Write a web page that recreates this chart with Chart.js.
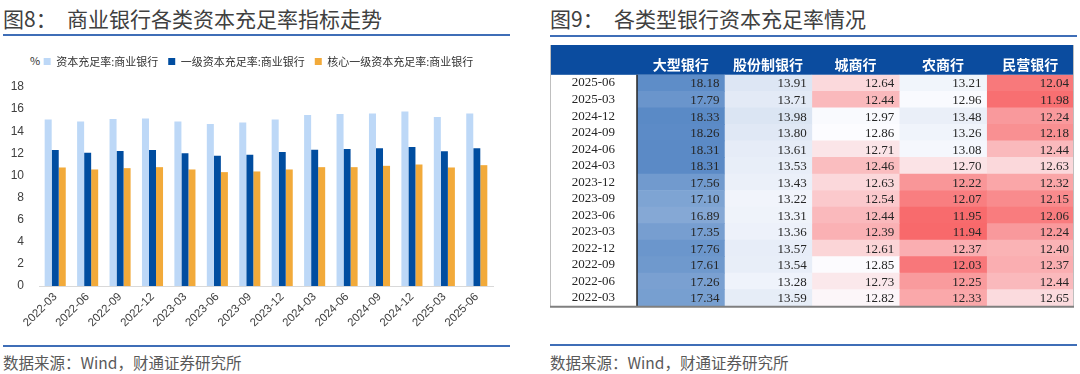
<!DOCTYPE html>
<html>
<head>
<meta charset="utf-8">
<script src="https://cdn.jsdelivr.net/npm/chart.js@4.4.1/dist/chart.umd.min.js"></script>
<style>
  html,body{margin:0;padding:0;background:#fff;}
  body{width:1080px;height:374px;position:relative;overflow:hidden;font-family:"Noto Sans CJK SC","Noto Sans",sans-serif;}
  .t{position:absolute;font-size:21px;color:#404040;line-height:24px;white-space:nowrap;}
  .ln{position:absolute;height:2px;background:#3F6EB7;}
  .src{position:absolute;font-size:15.5px;color:#595959;line-height:20px;white-space:nowrap;}
  canvas{position:absolute;}
</style>
</head>
<body>
<script>
// ---------- data: left chart ----------
const barCategories = ["2022-03","2022-06","2022-09","2022-12","2023-03","2023-06","2023-09","2023-12","2024-03","2024-06","2024-09","2024-12","2025-03","2025-06"];
const seriesNames = ["资本充足率:商业银行","一级资本充足率:商业银行","核心一级资本充足率:商业银行"];
const capitalRatio = [15.07,14.87,15.10,15.16,14.87,14.66,14.78,15.07,15.46,15.55,15.61,15.79,15.28,15.61];
const tier1Ratio   = [12.30,12.06,12.21,12.30,12.00,11.79,11.88,12.12,12.33,12.39,12.45,12.57,12.18,12.45];
const coreTier1Ratio = [10.72,10.54,10.66,10.75,10.54,10.30,10.36,10.54,10.75,10.75,10.87,10.99,10.72,10.93];
const yTicks = [0,2,4,6,8,10,12,14,16,18];

// ---------- data: right table ----------
const tableRows = ["2025-06","2025-03","2024-12","2024-09","2024-06","2024-03","2023-12","2023-09","2023-06","2023-03","2022-12","2022-09","2022-06","2022-03"];
const tableCols = ["大型银行","股份制银行","城商行","农商行","民营银行"];
const largeBanks  = [18.18,17.79,18.33,18.26,18.31,18.31,17.56,17.10,16.89,17.35,17.76,17.61,17.26,17.34];
const jointStock  = [13.91,13.71,13.98,13.80,13.61,13.53,13.43,13.22,13.31,13.36,13.57,13.54,13.28,13.59];
const cityBanks   = [12.64,12.44,12.97,12.86,12.71,12.46,12.63,12.54,12.44,12.39,12.61,12.85,12.73,12.82];
const ruralBanks  = [13.21,12.96,13.48,13.26,13.08,12.70,12.22,12.07,11.95,11.94,12.37,12.03,12.25,12.33];
const privateBanks= [12.04,11.98,12.24,12.18,12.44,12.63,12.32,12.15,12.06,12.24,12.40,12.37,12.44,12.65];
const tableValues = [largeBanks, jointStock, cityBanks, ruralBanks, privateBanks];
</script>

<div class="t" style="left:3px;top:6px;">图8：</div>
<div class="t" style="left:67px;top:6px;">商业银行各类资本充足率指标走势</div>
<div class="ln" style="left:3px;top:34px;width:507px;"></div>
<div style="position:absolute;left:30px;top:52px;font-size:11px;color:#333;">%</div>
<canvas id="bar" width="530" height="300" style="left:0;top:40px;width:530px;height:300px;"></canvas>
<div class="ln" style="left:3px;top:345px;width:507px;"></div>
<div class="src" style="left:3px;top:352px;">数据来源：Wind，财通证券研究所</div>

<div class="t" style="left:550px;top:6px;">图9：</div>
<div class="t" style="left:614px;top:6px;">各类型银行资本充足率情况</div>
<div class="ln" style="left:550px;top:35px;width:527px;"></div>
<canvas id="heat" width="524" height="291" style="left:550px;top:45px;width:524px;height:291px;"></canvas>
<div class="ln" style="left:550px;top:344px;width:527px;"></div>
<div class="src" style="left:550px;top:352px;">数据来源：Wind，财通证券研究所</div>

<script>
Chart.defaults.animation = false;
Chart.defaults.devicePixelRatio = 1;

// extra space under the legend
const legendGap = {
  id: 'legendGap',
  beforeInit(chart) {
    const origFit = chart.legend.fit;
    chart.legend.fit = function () { origFit.call(this); this.height += 10; };
  }
};

// ---------- left bar chart ----------
new Chart(document.getElementById('bar'), {
  type: 'bar',
  data: {
    labels: barCategories,
    datasets: [
      {label: seriesNames[0], data: capitalRatio, backgroundColor: '#BDD8F7'},
      {label: seriesNames[1], data: tier1Ratio, backgroundColor: '#004DA0'},
      {label: seriesNames[2], data: coreTier1Ratio, backgroundColor: '#F2AA3A'}
    ]
  },
  options: {
    responsive: false,
    layout: {padding: {top: 6, right: 13, left: 0, bottom: 0}},
    datasets: {bar: {categoryPercentage: 0.65, barPercentage: 1, borderWidth: 0}},
    plugins: {
      tooltip: {enabled: false},
      legend: {
        position: 'top',
        labels: {
          boxWidth: 7, boxHeight: 7, padding: 10,
          color: '#333',
          font: {family: '"Noto Sans CJK SC"', size: 11}
        }
      }
    },
    scales: {
      x: {
        grid: {display: false, drawTicks: false},
        border: {display: true, color: '#D9D9D9', width: 1},
        ticks: {
          minRotation: 45, maxRotation: 45, padding: 4,
          color: '#404040',
          font: {family: '"Liberation Sans", Arial', size: 11.5}
        },
        afterFit: s => { s.height = 54; }
      },
      y: {
        min: 0, max: 18,
        grid: {display: false, drawTicks: false},
        border: {display: false},
        afterBuildTicks: s => { s.ticks = yTicks.map(v => ({value: v})); },
        ticks: {
          padding: 15, color: '#404040',
          font: {family: '"Liberation Sans", Arial', size: 12}
        },
        afterFit: s => { s.width = 39; }
      },
      ySpacer: {
        position: 'right', min: 0, max: 18,
        grid: {display: false, drawTicks: false},
        border: {display: false},
        ticks: {display: false},
        afterFit: s => { s.width = 24; }
      }
    }
  },
  plugins: [legendGap]
});

// ---------- right heat table ----------
const allVals = tableValues.flat().slice().sort((a,b)=>a-b);
const vMin = allVals[0], vMax = allVals[allVals.length-1];
const vMid = (allVals[Math.floor((allVals.length-1)/2)] + allVals[Math.ceil((allVals.length-1)/2)]) / 2;
const cLow = [248,105,107], cMid = [252,252,255], cHigh = [90,138,198];
function heatColor(v) {
  let a, b, t;
  if (v <= vMid) { a = cMid; b = cLow; t = (vMid - v) / (vMid - vMin); }
  else { a = cMid; b = cHigh; t = (v - vMid) / (vMax - vMid); }
  t = Math.max(0, Math.min(1, t));
  const c = a.map((x,i)=>Math.round(x + (b[i]-x)*t));
  return `rgb(${c[0]},${c[1]},${c[2]})`;
}

const tablePlugin = {
  id: 'tablePlugin',
  beforeDraw(chart) {
    const {ctx, chartArea, width} = chart;
    ctx.save();
    ctx.fillStyle = '#0B4C9F';
    ctx.fillRect(0, 0, width, chartArea.top);
    ctx.restore();
  },
  afterDatasetsDraw(chart) {
    const {ctx, chartArea} = chart;
    ctx.save();
    ctx.font = '13px "Liberation Serif", "Times New Roman", serif';
    ctx.fillStyle = '#262626';
    ctx.textAlign = 'right';
    ctx.textBaseline = 'middle';
    chart.data.datasets.forEach((ds, i) => {
      const meta = chart.getDatasetMeta(i);
      meta.data.forEach((el, r) => {
        const p = el.getProps(['x','y'], true);
        ctx.fillText(ds.values[r].toFixed(2), p.x - 5, p.y + 1);
      });
    });
    ctx.strokeStyle = '#262626';
    ctx.lineWidth = 1.5;
    ctx.beginPath();
    ctx.moveTo(chartArea.left, chartArea.top);
    ctx.lineTo(chartArea.left, chartArea.bottom);
    ctx.stroke();
    ctx.restore();
  },
  afterDraw(chart) {
    const {ctx, chartArea, width} = chart;
    ctx.save();
    ctx.strokeStyle = '#BFBFBF';
    ctx.lineWidth = 1;
    ctx.beginPath();
    ctx.moveTo(0.5, 0); ctx.lineTo(0.5, chartArea.bottom);
    ctx.moveTo(width - 0.5, 0); ctx.lineTo(width - 0.5, chartArea.bottom);
    ctx.stroke();
    ctx.strokeStyle = '#7F7F7F';
    ctx.lineWidth = 2;
    ctx.beginPath();
    ctx.moveTo(0, chartArea.bottom + 0.5); ctx.lineTo(width, chartArea.bottom + 0.5);
    ctx.stroke();
    ctx.restore();
  }
};

new Chart(document.getElementById('heat'), {
  type: 'bar',
  data: {
    labels: tableRows,
    datasets: tableCols.map((name, j) => ({
      label: name,
      values: tableValues[j],
      data: tableValues[j].map(() => 1),
      backgroundColor: tableValues[j].map(heatColor),
      borderWidth: 0,
      categoryPercentage: 1,
      barPercentage: 1,
      stack: 'cells'
    }))
  },
  options: {
    responsive: false,
    indexAxis: 'y',
    layout: {padding: 0},
    plugins: {legend: {display: false}, tooltip: {enabled: false}},
    scales: {
      x: {
        position: 'top', stacked: true, min: 0, max: tableCols.length,
        grid: {display: false, drawTicks: false},
        border: {display: false},
        afterBuildTicks: s => { s.ticks = tableCols.map((c, j) => ({value: j + 0.5})); },
        ticks: {
          autoSkip: false, maxRotation: 0, padding: 2,
          color: '#FFFFFF',
          font: {family: '"Noto Sans CJK SC"', size: 14, weight: 'bold'},
          callback: v => tableCols[Math.round(v - 0.5)]
        },
        afterFit: s => { s.height = 20; }
      },
      y: {
        stacked: true,
        grid: {display: false, drawTicks: false},
        border: {display: false},
        ticks: {
          autoSkip: false, padding: 22,
          color: '#262626',
          font: {family: '"Liberation Serif", "Times New Roman", serif', size: 13}
        },
        afterFit: s => { s.width = 87; }
      }
    }
  },
  plugins: [tablePlugin]
});
</script>
</body>
</html>
